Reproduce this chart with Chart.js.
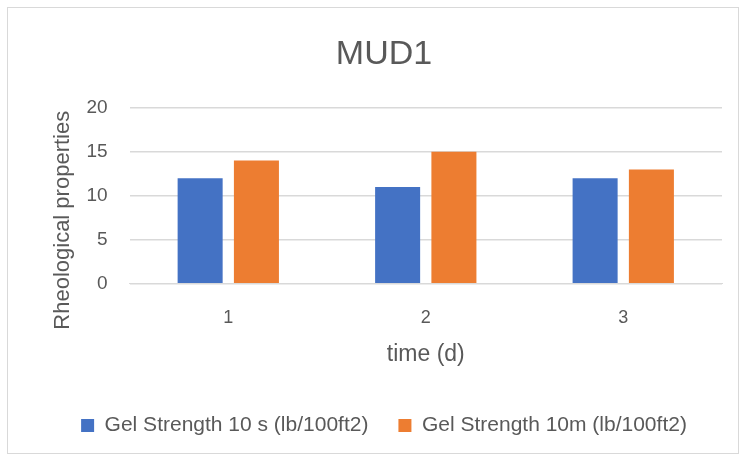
<!DOCTYPE html>
<html>
<head>
<meta charset="utf-8">
<script src="https://cdn.jsdelivr.net/npm/chart.js@4"></script>
<style>
  html, body { margin: 0; padding: 0; background: #fff; }
  #wrap {
    position: absolute; left: 7px; top: 7px;
    width: 732px; height: 447px;
    border: 1px solid #d9d9d9; box-sizing: border-box;
  }
</style>
</head>
<body>
<div id="wrap"><canvas id="chart"></canvas></div>
<script>
const categories = ["1", "2", "3"];
const gel10s = [12, 11, 12];
const gel10m = [14, 15, 13];
const seriesNames = ["Gel Strength 10 s (lb/100ft2)", "Gel Strength 10m (lb/100ft2)"];
const yTicks = [0, 5, 10, 15, 20];

const font = "'Liberation Sans', Arial, sans-serif";
const grey = "#595959";

new Chart(document.getElementById("chart"), {
  type: "bar",
  data: {
    labels: categories,
    datasets: [
      { label: seriesNames[0], data: gel10s, backgroundColor: "#4472c4" },
      { label: seriesNames[1], data: gel10m, backgroundColor: "#ed7d31" }
    ]
  },
  options: {
    responsive: true,
    maintainAspectRatio: false,
    animation: false,
    categoryPercentage: 0.57,
    barPercentage: 0.8,
    layout: { padding: { left: 38, right: 16, top: 26, bottom: 7 } },
    plugins: {
      title: {
        display: true, text: "MUD1", color: grey,
        font: { family: font, size: 34, weight: "normal" },
        padding: { top: 0, bottom: 33 }
      },
      legend: {
        position: "bottom",
        labels: {
          color: grey, boxWidth: 13, boxHeight: 13, padding: 30,
          font: { family: font, size: 21 }
        }
      },
      tooltip: { enabled: false }
    },
    scales: {
      x: {
        grid: { display: false },
        border: { color: "#d9d9d9" },
        ticks: { color: grey, font: { family: font, size: 18 }, padding: 15 },
        title: {
          display: true, text: "time (d)", color: grey,
          font: { family: font, size: 23 }, padding: { top: -3, bottom: 17 }
        }
      },
      y: {
        min: 0, max: 20,
        afterBuildTicks: axis => { axis.ticks = yTicks.map(v => ({ value: v })); },
        grid: { color: "#d9d9d9", lineWidth: 1.5, drawTicks: false },
        border: { display: false },
        ticks: { color: grey, font: { family: font, size: 19 }, padding: 22 },
        title: {
          display: true, text: "Rheological properties        ", color: grey,
          font: { family: font, size: 22 }, padding: { top: 4, bottom: -12 }
        }
      }
    }
  }
});
</script>
</body>
</html>
